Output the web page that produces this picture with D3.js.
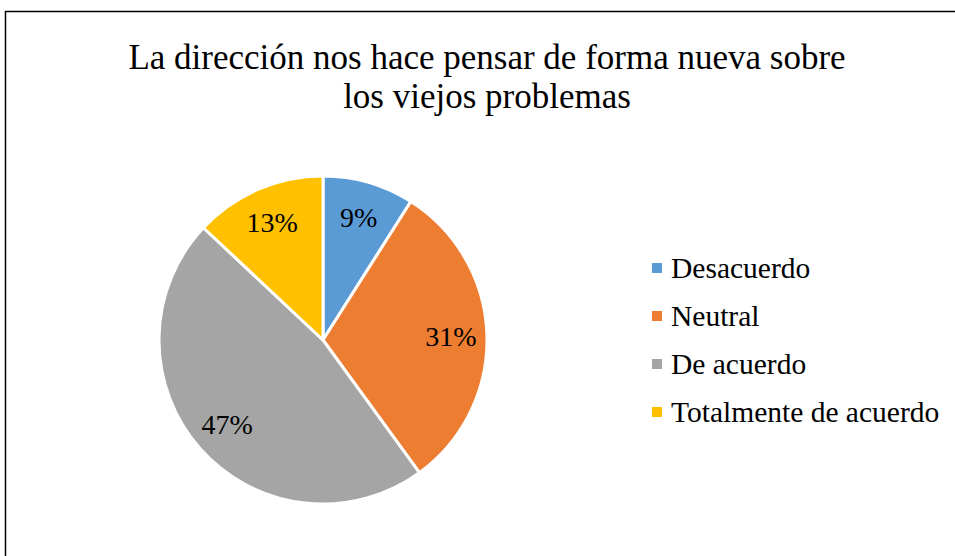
<!DOCTYPE html>
<html>
<head>
<meta charset="utf-8">
<script src="https://cdn.jsdelivr.net/npm/d3@7"></script>
<style>
  body { margin: 0; background: #fff; }
</style>
</head>
<body>
<div class="chart"></div>
<script>
// chart data
var categories = ["Desacuerdo", "Neutral", "De acuerdo", "Totalmente de acuerdo"];
var values = [9, 31, 47, 13];
var colors = ["#5b9bd5", "#ed7d31", "#a5a5a5", "#ffc000"];
var titleLines = ["La dirección nos hace pensar de forma nueva sobre", "los viejos problemas"];

var svgWidth = 955;
var svgHeight = 556;
var serif = "Liberation Serif";

var svg = d3.select(".chart")
  .append("svg")
  .attr("width", svgWidth)
  .attr("height", svgHeight)
  .attr("font-family", serif);

// outer frame (runs off the right and bottom edges)
svg.append("rect")
  .attr("x", 5.5)
  .attr("y", 11.5)
  .attr("width", 1000)
  .attr("height", 600)
  .attr("fill", "none")
  .attr("stroke", "#000")
  .attr("stroke-width", 1.5);

// title
svg.append("text")
  .attr("x", 487)
  .attr("y", 69)
  .attr("text-anchor", "middle")
  .attr("font-size", 35)
  .selectAll("tspan")
  .data(titleLines)
  .enter()
  .append("tspan")
  .attr("x", 487)
  .attr("dy", (d, i) => i === 0 ? 0 : 39)
  .text(d => d);

// pie
var cx = 323, cy = 340, radius = 164;
var pieGroup = svg.append("g")
  .attr("transform", `translate(${cx}, ${cy})`);

var pie = d3.pie().sort(null).value(d => d);
var arcs = pie(values);

var arc = d3.arc().innerRadius(0).outerRadius(radius);
var labelArc = d3.arc().innerRadius(radius * 0.78).outerRadius(radius * 0.78);

pieGroup.selectAll(".slice")
  .data(arcs)
  .enter()
  .append("path")
  .attr("class", "slice")
  .attr("d", arc)
  .attr("fill", (d, i) => colors[i])
  .attr("stroke", "#fff")
  .attr("stroke-width", 3);

pieGroup.selectAll(".label")
  .data(arcs)
  .enter()
  .append("text")
  .attr("class", "label")
  .attr("transform", d => `translate(${labelArc.centroid(d)})`)
  .attr("text-anchor", "middle")
  .attr("dy", "0.35em")
  .attr("font-size", 28)
  .text(d => d.data + "%");

// legend
var legend = svg.append("g")
  .attr("transform", "translate(652, 268)");

var legendRow = legend.selectAll(".legend-row")
  .data(categories)
  .enter()
  .append("g")
  .attr("class", "legend-row")
  .attr("transform", (d, i) => `translate(0, ${i * 48})`);

legendRow.append("rect")
  .attr("x", 0)
  .attr("y", -5)
  .attr("width", 10)
  .attr("height", 10)
  .attr("fill", (d, i) => colors[i]);

legendRow.append("text")
  .attr("x", 19)
  .attr("dy", "0.35em")
  .attr("font-size", 29.5)
  .text(d => d);
</script>
</body>
</html>
